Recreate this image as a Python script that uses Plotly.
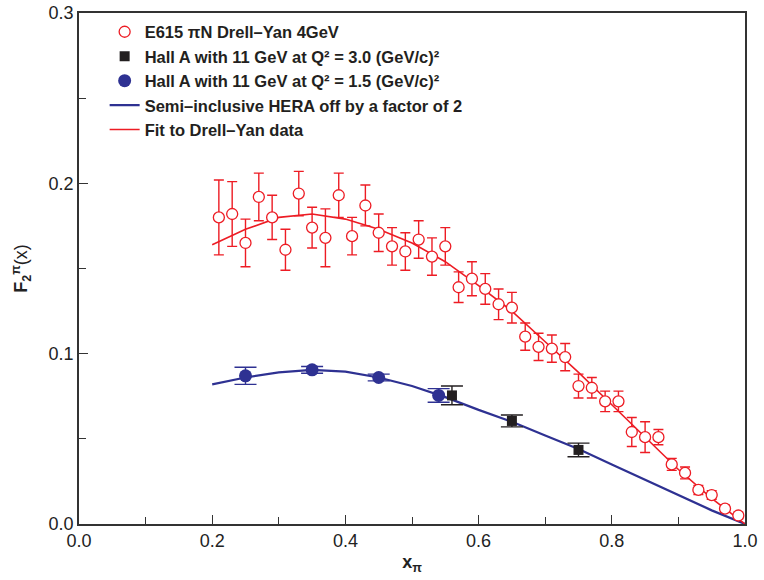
import plotly.graph_objects as go

# E615 pi N Drell-Yan data (open red circles)
e615_x = [0.21, 0.23, 0.25, 0.27, 0.29, 0.31, 0.33, 0.35, 0.37, 0.39,
          0.41, 0.43, 0.45, 0.47, 0.49, 0.51, 0.53, 0.55, 0.57, 0.59,
          0.61, 0.63, 0.65, 0.67, 0.69, 0.71, 0.73, 0.75, 0.77, 0.79,
          0.81, 0.83, 0.85, 0.87, 0.89, 0.91, 0.93, 0.95, 0.97, 0.99]
e615_y = [0.180, 0.182, 0.165, 0.192, 0.180, 0.161, 0.194, 0.174, 0.168, 0.193,
          0.169, 0.187, 0.171, 0.163, 0.160, 0.167, 0.157, 0.163, 0.139, 0.144,
          0.138, 0.129, 0.127, 0.110, 0.104, 0.103, 0.098, 0.081, 0.080, 0.072,
          0.072, 0.054, 0.051, 0.051, 0.035, 0.030, 0.020, 0.017, 0.009, 0.005]
e615_err = [0.022, 0.019, 0.014, 0.014, 0.013, 0.012, 0.013, 0.012, 0.017, 0.013,
            0.011, 0.012, 0.011, 0.011, 0.011, 0.011, 0.011, 0.011, 0.009, 0.010,
            0.009, 0.009, 0.009, 0.008, 0.008, 0.008, 0.008, 0.007, 0.006, 0.006,
            0.006, 0.0085, 0.009, 0.0045, 0.0035, 0.0035, 0.0027, 0.0025, 0.002, 0.002]

# Hall A projections, Q^2 = 3.0 (black squares)
halla30_x = [0.56, 0.65, 0.75]
halla30_y = [0.0755, 0.0605, 0.0435]
halla30_err = [0.0055, 0.0035, 0.004]

# Hall A projections, Q^2 = 1.5 (blue circles)
halla15_x = [0.25, 0.35, 0.45, 0.54]
halla15_y = [0.087, 0.0905, 0.086, 0.0755]
halla15_err = [0.005, 0.002, 0.002, 0.004]

# Curves
curve_x = [0.20, 0.25, 0.30, 0.35, 0.40, 0.45, 0.50, 0.55, 0.60,
           0.65, 0.70, 0.75, 0.80, 0.85, 0.90, 0.95, 1.00]
hera_y = [0.082, 0.086, 0.089, 0.0905, 0.0895, 0.086, 0.081, 0.0745, 0.067,
          0.060, 0.052, 0.044, 0.035, 0.026, 0.017, 0.008, 0.0]
dy_fit_y = [0.164, 0.173, 0.180, 0.182, 0.179, 0.173, 0.165, 0.154, 0.140,
            0.125, 0.107, 0.089, 0.070, 0.051, 0.032, 0.015, 0.0]

RED = "#ed1c24"
BLUE = "#2e3192"
BLACK = "#231f20"
FONT = "Liberation Sans, Arial, sans-serif"

fig = go.Figure()

fig.add_trace(go.Scatter(x=curve_x, y=hera_y, mode="lines",
                         line=dict(color=BLUE, width=2.2),
                         name="<b>Semi–inclusive HERA off by a factor of 2</b>",
                         legendrank=4))
fig.add_trace(go.Scatter(x=curve_x, y=dy_fit_y, mode="lines",
                         line=dict(color=RED, width=1.6),
                         name="<b>Fit to Drell–Yan data</b>", legendrank=5))

fig.add_trace(go.Scatter(
    x=e615_x, y=e615_y, mode="markers",
    marker=dict(symbol="circle", size=11, color="white",
                line=dict(color=RED, width=1.3)),
    error_y=dict(type="data", array=e615_err, color=RED, thickness=1.4, width=5),
    name="<b>E615 πN Drell–Yan 4GeV</b>", legendrank=1))

fig.add_trace(go.Scatter(
    x=halla30_x, y=halla30_y, mode="markers",
    marker=dict(symbol="square", size=10, color=BLACK),
    error_y=dict(type="data", array=halla30_err, color=BLACK, thickness=1.4, width=11),
    name="<b>Hall A with 11 GeV at Q² = 3.0 (GeV/c)²</b>", legendrank=2))

fig.add_trace(go.Scatter(
    x=halla15_x, y=halla15_y, mode="markers",
    marker=dict(symbol="circle", size=13, color=BLUE),
    error_y=dict(type="data", array=halla15_err, color=BLUE, thickness=1.4, width=11),
    name="<b>Hall A with 11 GeV at Q² = 1.5 (GeV/c)²</b>", legendrank=3))

axis_common = dict(
    showgrid=False, zeroline=False, showline=True, linecolor="#333333",
    linewidth=1.6, mirror=True, ticks="inside", tickcolor="#333333",
    ticklen=9, tickwidth=1.3, automargin=False,
    tickfont=dict(family=FONT, size=18, color="#222222"),
)

fig.update_xaxes(range=[0, 1], dtick=0.2, tick0=0, tickformat=".1f",
                 minor=dict(dtick=0.1, ticks="inside", ticklen=7, tickcolor="#333333", tickwidth=1.3),
                 title=dict(text="<b>x<sub>π</sub></b>", standoff=5,
                            font=dict(family=FONT, size=18, color="#222222")),
                 **axis_common)
fig.update_yaxes(range=[0, 0.3], dtick=0.1, tick0=0, tickformat=".1f",
                 minor=dict(dtick=0.05, ticks="inside", ticklen=7, tickcolor="#333333", tickwidth=1.3),
                 title=dict(text="<b>F<sub>2</sub><sup>π</sup></b>(x)", standoff=16,
                            font=dict(family=FONT, size=18, color="#222222")),
                 **axis_common)

fig.update_layout(
    width=764, height=580,
    margin=dict(l=79, r=19, t=13, b=56),
    paper_bgcolor="white", plot_bgcolor="white",
    showlegend=True,
    legend=dict(x=0.0385, y=0.997, xanchor="left", yanchor="top",
                bgcolor="rgba(0,0,0,0)", borderwidth=0,
                font=dict(family=FONT, size=16.5, color="#231f20"),
                tracegroupgap=0, itemwidth=30),
)

# remove the browser's default page margin so the figure fills the window
fig.write_html("out.html", config={"displayModeBar": False},
               post_script="document.body.style.margin='0';")
